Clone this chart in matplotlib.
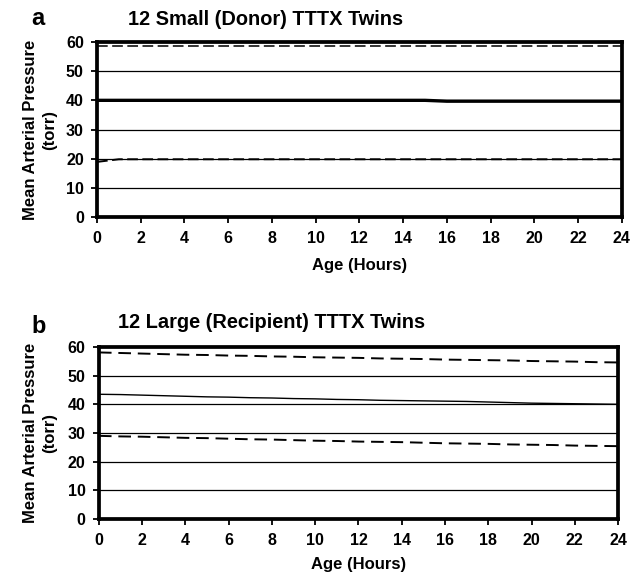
import matplotlib
matplotlib.use("Agg")
import matplotlib.pyplot as plt

plt.rcParams['font.family'] = ['Liberation Sans', 'DejaVu Sans']
plt.rcParams['font.weight'] = 'bold'

hours = list(range(0, 25))

# panel a: small (donor) twins
upper_a = [58.7] * 25
mean_a = [40.0] * 16 + [39.7] * 9
lower_a = [18.9] + [19.8] * 24

# panel b: large (recipient) twins
upper_b = [58.1, 57.9, 57.7, 57.5, 57.3, 57.2, 57.0, 56.9, 56.7, 56.6, 56.4, 56.3, 56.2,
           56.0, 55.9, 55.8, 55.6, 55.5, 55.4, 55.3, 55.1, 55.0, 54.9, 54.7, 54.6]
mean_b = [43.5, 43.4, 43.2, 43.0, 42.8, 42.6, 42.5, 42.3, 42.2, 42.0, 41.9, 41.7, 41.6,
          41.4, 41.3, 41.2, 41.1, 41.0, 40.8, 40.6, 40.4, 40.3, 40.2, 40.1, 40.0]
lower_b = [29.0, 28.8, 28.7, 28.5, 28.3, 28.2, 28.0, 27.8, 27.7, 27.5, 27.3, 27.2, 27.0,
           26.9, 26.8, 26.6, 26.4, 26.3, 26.2, 26.0, 25.9, 25.8, 25.6, 25.5, 25.4]

xticks = list(range(0, 25, 2))
yticks = list(range(0, 61, 10))

fig = plt.figure(figsize=(6.3, 5.72), dpi=100)
ax_a = fig.add_axes([0.154, 0.6206, 0.833, 0.306])
ax_b = fig.add_axes([0.157, 0.0927, 0.824, 0.3007])


def style(ax, mean, upper, lower, mean_lw, dash, dash_col, ylab_x, xlab_y):
    for y in yticks[1:-1]:
        ax.axhline(y, color='black', lw=0.9, zorder=1)
    ax.plot(hours, upper, color=dash_col, lw=1.4, dashes=dash, zorder=2)
    ax.plot(hours, lower, color='black', lw=1.4, dashes=dash, zorder=2)
    ax.plot(hours, mean, color='black', lw=mean_lw, zorder=3)
    ax.set_xlim(0, 24)
    ax.set_ylim(0, 60)
    ax.set_xticks(xticks)
    ax.set_yticks(yticks)
    for s in ax.spines.values():
        s.set_linewidth(2.7)
    ax.tick_params(direction='out', length=4.5, width=1.3, labelsize=11.5)
    ax.tick_params(axis='x', pad=5.5)
    ax.tick_params(axis='y', pad=5)
    for lab in ax.get_xticklabels() + ax.get_yticklabels():
        lab.set_fontweight('bold')
    ax.set_xlabel('Age (Hours)', fontsize=12, fontweight='bold')
    ax.set_ylabel('Mean Arterial Pressure\n(torr)', fontsize=12,
                  fontweight='bold', linespacing=1.35)
    ax.yaxis.set_label_coords(ylab_x, 0.5)
    ax.xaxis.set_label_coords(0.5, xlab_y)


style(ax_a, mean_a, upper_a, lower_a, 2.4, (5.5, 2.3), '#333333', -0.076, -0.234)
style(ax_b, mean_b, upper_b, lower_b, 1.0, (6.5, 3.5), 'black', -0.081, -0.221)

fig.text(0.203, 0.966, '12 Small (Donor) TTTX Twins', fontsize=14.4,
         fontweight='bold', va='center', ha='left')
fig.text(0.187, 0.437, '12 Large (Recipient) TTTX Twins', fontsize=14.4,
         fontweight='bold', va='center', ha='left')
fig.text(0.05, 0.968, 'a', fontsize=17, fontweight='bold', va='center', ha='left')
fig.text(0.05, 0.43, 'b', fontsize=17, fontweight='bold', va='center', ha='left')

fig.savefig('out.png', dpi=100)
